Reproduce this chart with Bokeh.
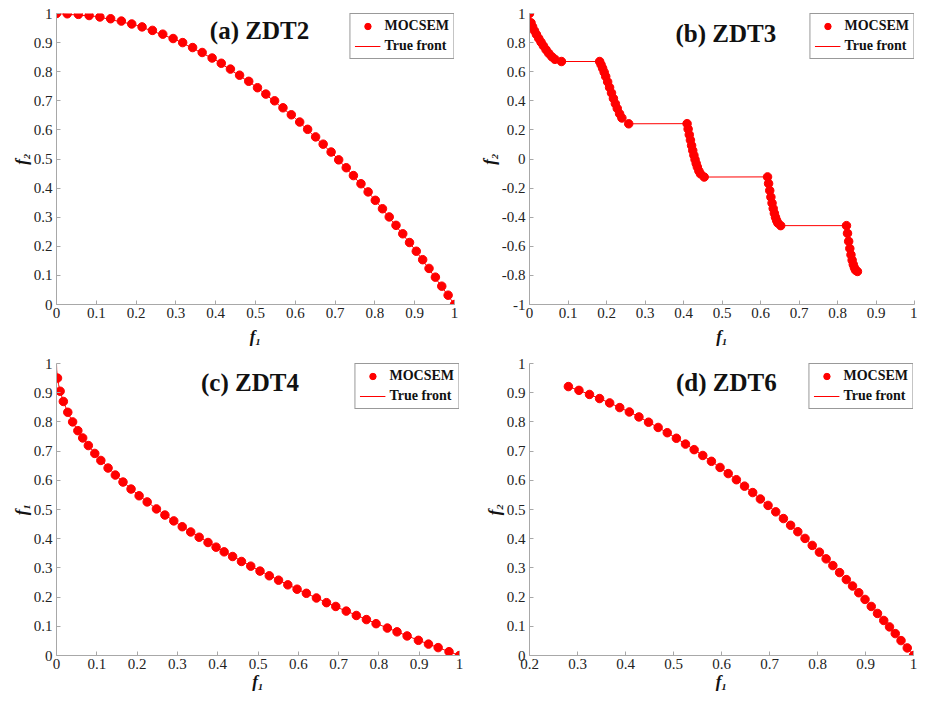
from bokeh.plotting import figure
from bokeh.layouts import column, row
from bokeh.models import Legend, LegendItem, Label, FixedTicker, CustomJSTickFormatter, Range1d, ColumnDataSource
from bokeh.embed import file_html
from bokeh.resources import INLINE

# ---------------- data ----------------
zdt2_f1 = [0.000, 0.027, 0.055, 0.082, 0.109, 0.136, 0.163, 0.189, 0.215, 0.241,
           0.267, 0.293, 0.317, 0.342, 0.366, 0.391, 0.414, 0.437, 0.460, 0.483,
           0.505, 0.526, 0.548, 0.569, 0.590, 0.611, 0.631, 0.651, 0.670, 0.690,
           0.709, 0.728, 0.746, 0.765, 0.783, 0.801, 0.819, 0.836, 0.853, 0.870,
           0.887, 0.904, 0.920, 0.936, 0.952, 0.968, 0.984, 1.000]
zdt2_f2 = [1.000, 0.999, 0.997, 0.993, 0.988, 0.982, 0.974, 0.964, 0.954, 0.942,
           0.929, 0.914, 0.900, 0.883, 0.866, 0.847, 0.829, 0.809, 0.788, 0.767,
           0.745, 0.723, 0.700, 0.676, 0.652, 0.627, 0.602, 0.576, 0.551, 0.524,
           0.497, 0.470, 0.443, 0.415, 0.387, 0.358, 0.329, 0.301, 0.272, 0.243,
           0.213, 0.183, 0.154, 0.124, 0.094, 0.063, 0.032, 0.000]
zdt2_true_f1 = [0.0, 0.1, 0.2, 0.3, 0.4, 0.5, 0.6, 0.7, 0.8, 0.9, 1.0]
zdt2_true_f2 = [1.0, 0.99, 0.96, 0.91, 0.84, 0.75, 0.64, 0.51, 0.36, 0.19, 0.0]

zdt3_f1 = [0.000, 0.004, 0.008, 0.013, 0.018, 0.024, 0.030, 0.036, 0.043, 0.050, 0.058, 0.066, 0.083,
           0.1822, 0.186, 0.190, 0.194, 0.198, 0.203, 0.208, 0.213, 0.218, 0.223, 0.228, 0.234, 0.240, 0.2577,
           0.4093, 0.412, 0.415, 0.418, 0.421, 0.424, 0.427, 0.430, 0.433, 0.436, 0.440, 0.444, 0.4538,
           0.6183, 0.621, 0.624, 0.627, 0.630, 0.633, 0.636, 0.639, 0.642, 0.645, 0.6525,
           0.8233, 0.826, 0.829, 0.832, 0.835, 0.838, 0.841, 0.844, 0.847, 0.8518]
zdt3_f2 = [1.000, 0.936, 0.909, 0.881, 0.856, 0.829, 0.803, 0.778, 0.751, 0.726, 0.703, 0.685, 0.670,
           0.670, 0.648, 0.623, 0.596, 0.567, 0.530, 0.492, 0.454, 0.416, 0.380, 0.347, 0.311, 0.282, 0.242,
           0.243, 0.206, 0.167, 0.130, 0.093, 0.059, 0.026, -0.004, -0.031, -0.055, -0.082, -0.102, -0.124,
           -0.123, -0.169, -0.217, -0.262, -0.303, -0.340, -0.373, -0.401, -0.423, -0.440, -0.458,
           -0.458, -0.511, -0.566, -0.615, -0.658, -0.695, -0.725, -0.748, -0.764, -0.773]

zdt4_f1 = [0.0025, 0.009, 0.017, 0.028, 0.040, 0.053, 0.065, 0.079, 0.095, 0.110,
           0.128, 0.146, 0.165, 0.185, 0.205, 0.225, 0.248, 0.269, 0.291, 0.312,
           0.333, 0.354, 0.376, 0.396, 0.416, 0.437, 0.459, 0.482, 0.505, 0.528,
           0.551, 0.574, 0.597, 0.620, 0.645, 0.670, 0.693, 0.719, 0.744, 0.769,
           0.793, 0.821, 0.845, 0.870, 0.898, 0.923, 0.947, 0.974, 1.000]
zdt4_f2 = [0.950, 0.905, 0.870, 0.833, 0.800, 0.770, 0.745, 0.719, 0.692, 0.668,
           0.642, 0.618, 0.594, 0.570, 0.547, 0.526, 0.502, 0.481, 0.461, 0.441,
           0.423, 0.405, 0.387, 0.371, 0.355, 0.339, 0.322, 0.306, 0.289, 0.273,
           0.258, 0.242, 0.227, 0.213, 0.197, 0.181, 0.168, 0.152, 0.137, 0.123,
           0.109, 0.094, 0.081, 0.067, 0.052, 0.039, 0.027, 0.013, 0.000]
zdt4_true_f1 = [0.0, 0.0005, 0.002, 0.005, 0.01, 0.02, 0.035, 0.05, 0.075, 0.1, 0.15,
                0.2, 0.25, 0.3, 0.4, 0.5, 0.6, 0.7, 0.8, 0.9, 1.0]
zdt4_true_f2 = [1.0, 0.978, 0.955, 0.929, 0.9, 0.859, 0.813, 0.776, 0.726, 0.684, 0.613,
                0.553, 0.5, 0.452, 0.368, 0.293, 0.225, 0.163, 0.106, 0.051, 0.0]

zdt6_f1 = [0.281, 0.303, 0.325, 0.346, 0.367, 0.388, 0.408, 0.428, 0.448, 0.468,
           0.487, 0.506, 0.525, 0.543, 0.561, 0.579, 0.597, 0.614, 0.631, 0.648,
           0.665, 0.681, 0.697, 0.713, 0.729, 0.744, 0.759, 0.774, 0.789, 0.804,
           0.818, 0.832, 0.846, 0.860, 0.873, 0.886, 0.899, 0.912, 0.925, 0.938,
           0.950, 0.962, 0.974, 0.987, 1.000]
zdt6_f2 = [0.921, 0.908, 0.894, 0.880, 0.865, 0.849, 0.834, 0.817, 0.799, 0.781,
           0.763, 0.744, 0.724, 0.705, 0.685, 0.665, 0.644, 0.623, 0.602, 0.580,
           0.558, 0.536, 0.514, 0.492, 0.469, 0.446, 0.424, 0.401, 0.377, 0.354,
           0.331, 0.308, 0.284, 0.260, 0.238, 0.215, 0.192, 0.168, 0.144, 0.120,
           0.098, 0.075, 0.051, 0.026, 0.000]

ticks_0_1 = [0.0, 0.1, 0.2, 0.3, 0.4, 0.5, 0.6, 0.7, 0.8, 0.9, 1.0]
ticks_02_1 = [0.2, 0.3, 0.4, 0.5, 0.6, 0.7, 0.8, 0.9, 1.0]
ticks_m1_1 = [-1.0, -0.8, -0.6, -0.4, -0.2, 0.0, 0.2, 0.4, 0.6, 0.8, 1.0]

titles = ["(a) ZDT2", "(b) ZDT3", "(c) ZDT4", "(d) ZDT6"]
series_names = ["MOCSEM", "True front"]

SERIF = "Liberation Serif"
AXIS_COLOR = "#a8a8a8"
RED = "#ff0000"


def make_panel(px, py, lx, ly, title, tpos, xr, yr, xticks, yticks, xlabel, ylabel,
               width, height, borders, label_standoff):
    p = figure(width=width, height=height, output_backend="svg", toolbar_location=None,
               x_range=Range1d(*xr), y_range=Range1d(*yr),
               min_border_left=borders[0], min_border_right=borders[1],
               min_border_top=borders[2], min_border_bottom=borders[3])
    p.outline_line_color = None
    p.xgrid.visible = False
    p.ygrid.visible = False
    p.background_fill_color = "white"
    p.border_fill_color = "white"

    p.xaxis.ticker = FixedTicker(ticks=xticks)
    p.yaxis.ticker = FixedTicker(ticks=yticks)
    fmt = "const v = Math.round(tick*10)/10; return v.toString();"
    p.xaxis.formatter = CustomJSTickFormatter(code=fmt)
    p.yaxis.formatter = CustomJSTickFormatter(code=fmt)
    p.xaxis.axis_label = xlabel
    p.yaxis.axis_label = ylabel
    for ax in (p.xaxis[0], p.yaxis[0]):
        ax.axis_line_color = AXIS_COLOR
        ax.major_tick_line_color = AXIS_COLOR
        ax.major_tick_in = 4
        ax.major_tick_out = 0
        ax.minor_tick_line_color = None
        ax.major_label_text_font = SERIF
        ax.major_label_text_font_size = "15px"
        ax.major_label_text_color = "#222222"
        ax.axis_label_text_font = SERIF
        ax.axis_label_text_font_style = "bold italic"
        ax.axis_label_text_font_size = "17px"
        ax.axis_label_text_color = "#111111"
        ax.axis_label_standoff = 0
        ax.major_label_standoff = 4
    p.xaxis[0].axis_label_standoff = label_standoff
    p.xaxis[0].major_label_standoff = 3

    line_src = ColumnDataSource(data=dict(x=list(lx), y=list(ly)))
    pts_src = ColumnDataSource(data=dict(x=list(px), y=list(py)))
    ln = p.line("x", "y", source=line_src, line_color=RED, line_width=1)
    sc = p.scatter("x", "y", source=pts_src, size=8.5, fill_color=RED, line_color=RED)

    legend = Legend(items=[LegendItem(label=series_names[0], renderers=[sc]),
                           LegendItem(label=series_names[1], renderers=[ln])],
                    location="top_right")
    legend.label_text_font = SERIF
    legend.label_text_font_style = "bold"
    legend.label_text_font_size = "14px"
    legend.label_text_color = "#111111"
    legend.border_line_color = "#333333"
    legend.border_line_width = 1
    legend.background_fill_color = "white"
    legend.background_fill_alpha = 1.0
    legend.glyph_width = 26
    legend.glyph_height = 16
    legend.label_height = 16
    legend.label_standoff = 4
    legend.padding = 4
    legend.spacing = 4
    legend.margin = 0
    p.add_layout(legend)

    lab = Label(x=tpos[0], y=tpos[1], text=title, text_align="center",
                text_baseline="middle", text_font=SERIF, text_font_style="bold",
                text_font_size="25px", text_color="#111111")
    p.add_layout(lab)
    return p


pa = make_panel(zdt2_f1, zdt2_f2, zdt2_true_f1, zdt2_true_f2, titles[0], (0.51, 0.94),
                (0, 1), (0, 1), ticks_0_1, ticks_0_1, "f₁", "f₂",
                459, 348, (56, 5, 13, 44), 6)
pb = make_panel(zdt3_f1, zdt3_f2, zdt3_f1, zdt3_f2, titles[1], (0.51, 0.86),
                (0, 1), (-1, 1), ticks_0_1, ticks_m1_1, "f₁", "f₂",
                458, 348, (70, 3, 13, 44), 6)
pc = make_panel(zdt4_f1, zdt4_f2, zdt4_true_f1, zdt4_true_f2, titles[2], (0.48, 0.935),
                (0, 1), (0, 1), ticks_0_1, ticks_0_1, "f₁", "f₁",
                463, 345, (56, 4, 15, 37), 0)
pd = make_panel(zdt6_f1, zdt6_f2, zdt6_f1, zdt6_f2, titles[3], (0.61, 0.935),
                (0.2, 1), (0, 1), ticks_02_1, ticks_0_1, "f₁", "f₂",
                454, 345, (66, 4, 15, 37), 0)

layout = column(row(pa, pb), row(pc, pd))

with open("out.html", "w") as f:
    f.write(file_html(layout, INLINE))
